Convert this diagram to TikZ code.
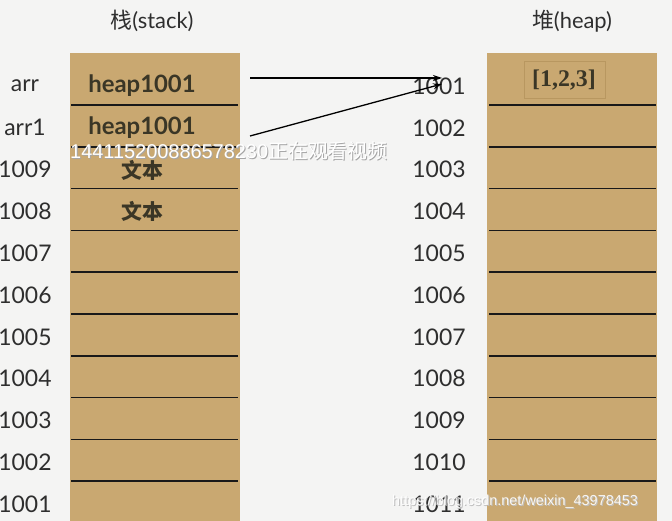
\documentclass[tikz,border=0pt]{standalone}
\usepackage{fontspec}
\setmainfont{Lato}
\newfontfamily\cjkfont{Noto Sans CJK SC}
\newfontfamily\seriffont{Liberation Serif}
\newfontfamily\wmfont{Liberation Sans}
\usetikzlibrary{arrows.meta}
\definecolor{bgc}{HTML}{F4F4F3}
\definecolor{tan}{HTML}{C9A871}
\definecolor{tandark}{HTML}{B89760}
\definecolor{labc}{HTML}{2E2E2E}
\definecolor{cellc}{HTML}{3A3626}
\tikzset{
  col/.style={fill=tan, draw=none},
  sep/.style={line width=1.5bp, draw=black!90},
  lab/.style={font=\fontsize{23}{23}\selectfont, text=labc, inner sep=0pt, anchor=center},
  celltext/.style={font=\fontsize{24}{24}\selectfont\bfseries, text=cellc, inner sep=0pt},
  cjkcell/.style={font=\fontsize{21}{21}\selectfont\cjkfont\bfseries, text=cellc, inner sep=0pt},
  title/.style={font=\fontsize{22}{22}\selectfont, text=labc, inner sep=0pt},
  ptr/.style={line width=1.3bp, -{Stealth[length=9bp,width=6bp]}},
  wm/.style={font=\fontsize{20}{20}\selectfont\wmfont, inner sep=0pt, anchor=west},
  wmsmall/.style={font=\fontsize{14.5}{14.5}\selectfont\wmfont, inner sep=0pt, anchor=west}
}
\begin{document}
\begin{tikzpicture}[x=1bp,y=-1bp]
\useasboundingbox (0,0) rectangle (672,521);
\fill[bgc] (0,0) rectangle (672,521);
% columns
\fill[col] (70,53) rectangle (240,521);
\fill[col] (487,53) rectangle (657,521);
\foreach \k in {0,...,9}{
  \draw[sep] (71,{105+41.8*\k}) -- (238,{105+41.8*\k});
  \draw[sep] (489,{105+41.8*\k}) -- (656,{105+41.8*\k});
}
% titles
\node[title] (tstack) at (152,21) {{\cjkfont 栈}(stack)};
\node[title] (theap) at (572,21) {{\cjkfont 堆}(heap)};
% stack labels
\foreach \t [count=\i from 0] in {arr,arr1,1009,1008,1007,1006,1005,1004,1003,1002,1001}{
  \node[lab] (s\i) at (25,{86+41.8*\i}) {\t};
}
% heap labels
\foreach \t [count=\i from 0] in {1001,1002,1003,1004,1005,1006,1007,1008,1009,1010,1011}{
  \node[lab] (h\i) at (439,{86+41.8*\i}) {\t};
}
% stack cells
\node[celltext] (c0) at (142,86) {heap1001};
\node[celltext] (c1) at (142,128) {heap1001};
\node[cjkcell] (c2) at (142,170) {文本};
\node[cjkcell] (c3) at (142,211) {文本};
% heap cell
\draw[tandark, line width=0.6bp] (524,61) rectangle (605,98);
\node[font=\fontsize{24}{24}\selectfont\seriffont\bfseries, text=cellc, inner sep=0pt] (v0) at (564,80) {[1,2,3]};
% pointers
\coordinate (p0) at (250,78);
\coordinate (p1) at (250,136);
\coordinate (q0) at (442,78);
\coordinate (q1) at (442,84);
\draw[ptr] (p0) -- (q0);
\draw[ptr] (p1) -- (q1);
% watermarks
\node[wm, text=black!35] (w1s) at (71,152) {144115200886578230{\cjkfont 正在观看视频}};
\node[wm, text=white] (w1) at (70,151) {144115200886578230{\cjkfont 正在观看视频}};
\node[wmsmall, text=black!25] (w2s) at (393,503) {https://blog.csdn.net/weixin\_43978453};
\node[wmsmall, text=white, opacity=0.9] (w2) at (392,502) {https://blog.csdn.net/weixin\_43978453};
\end{tikzpicture}
\end{document}
